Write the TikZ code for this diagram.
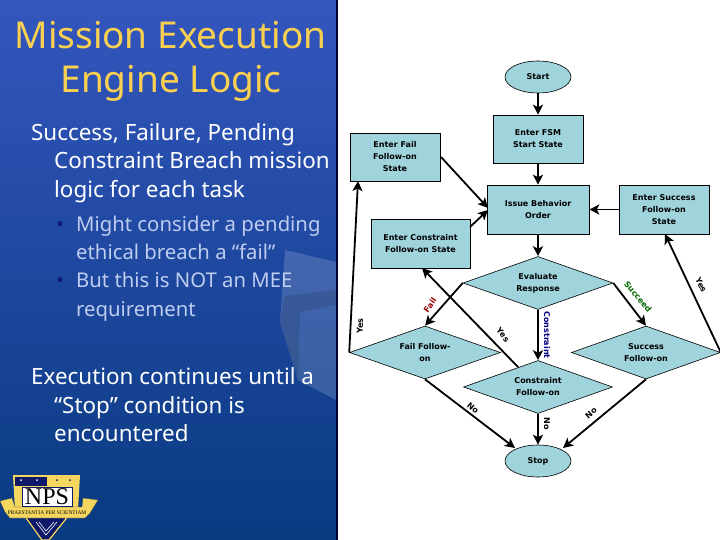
\documentclass[tikz,border=0pt]{standalone}
\usepackage{fontspec}
\setmainfont{Noto Sans}
\newfontfamily\flowfont{DejaVu Sans}
\newfontfamily\crestfont{Liberation Serif}
\usetikzlibrary{shapes.geometric,arrows.meta}
\definecolor{flowfill}{RGB}{160,212,220}
\definecolor{titlegold}{RGB}{250,208,80}
\definecolor{paneltop}{RGB}{52,86,190}
\definecolor{panelbot}{RGB}{8,58,128}
\definecolor{crestgold}{RGB}{245,215,95}
\definecolor{crestnavy}{RGB}{15,25,105}
\definecolor{paletext}{RGB}{190,205,240}
\definecolor{bulletnavy}{RGB}{15,25,120}
\tikzset{
  flowbox/.style={draw=black,line width=.6pt,fill=flowfill,rectangle,inner sep=0pt,align=center,
    font=\flowfont\bfseries\fontsize{8}{12}\selectfont},
  flowdiam/.style={flowbox,diamond,shape aspect=2.83},
  flowoval/.style={flowbox,ellipse},
  conn/.style={line width=1.8pt,-{Stealth[length=10pt,width=10pt,inset=2.5pt]}},
  edgelab/.style={font=\flowfont\bfseries\fontsize{8}{9}\selectfont,inner sep=0pt},
  titletext/.style={text=titlegold,font=\fontsize{37}{40}\selectfont,inner sep=0pt},
  bodytext/.style={text=white,anchor=base west,inner sep=0pt,font=\fontsize{22.4}{26}\selectfont},
  subtext/.style={text=paletext,anchor=base west,inner sep=0pt,font=\fontsize{20.3}{26}\selectfont},
}
\begin{document}
\begin{tikzpicture}[x=1pt,y=-1pt]
\path[use as bounding box,fill=white] (0,0) rectangle (720,540);
% left panel
\shade[top color=paneltop,bottom color=panelbot] (0,0) rectangle (336,540);
\fill[white,opacity=.16] (285,250) -- (336,262) -- (336,400) -- (298,380) -- (280,322) -- cycle;
\fill[black,opacity=.10] (285,296) -- (336,290) -- (336,305) -- (300,312) -- (298,378) -- (280,322) -- cycle;
\fill[black!60!blue!50!black] (336,0) rectangle (338,540);
% title and body text
\node[titletext] (t1) at (170.5,35) {Mission Execution};
\node[titletext] (t2) at (171,83) {Engine Logic};
\node[bodytext] (b1) at (31,141) {Success, Failure, Pending};
\node[bodytext] (b2) at (54,169) {Constraint Breach mission};
\node[bodytext] (b3) at (54,198) {logic for each task};
\node[subtext,text=bulletnavy] (s0) at (56,231) {•};
\node[subtext] (s1) at (76,231) {Might consider a pending};
\node[subtext] (s2) at (76,259) {ethical breach a “fail”};
\node[subtext,text=bulletnavy] (s3) at (56,287) {•};
\node[subtext] (s4) at (76,287) {But this is NOT an MEE};
\node[subtext] (s5) at (76,316) {requirement};
\node[bodytext] (e1) at (31,384) {Execution continues until a};
\node[bodytext] (e2) at (54,413) {“Stop” condition is};
\node[bodytext] (e3) at (54,441) {encountered};
% crest
\fill[crestgold] (13,475) -- (80,475) -- (78,510) -- (15,510) -- cycle;
\fill[crestnavy] (15,477) rectangle (47,486);
\fill[crestnavy] (26,481) circle (.8) (38,481) circle (.8);
\fill[white] (21,480) circle (1) (37,480) circle (1);
\fill[crestnavy] (57,480) circle (1) (70,480) circle (1);
\fill[white,draw=crestnavy,line width=.5pt] (22,487) rectangle (72,506);
\node[inner sep=0pt,text=black,font=\crestfont\fontsize{24}{24}\selectfont] (nps) at (47,496.5) {NPS};
\fill[crestnavy,draw=crestgold,line width=1.2pt] (24,515) -- (69,515) -- (49,540) -- (42,540) -- cycle;
\draw[white,line width=.6pt] (36,522) -- (46,535) -- (57,522) (39,522) -- (46,531) -- (54,522);
\fill[crestgold,draw=black!70,line width=.3pt] (0,501) -- (12,498) -- (15,507) -- (82,507) -- (83,498) -- (98,500) -- (90,513) -- (85,518) -- (10,518) -- (5,512) -- cycle;
\node[inner sep=0pt,text=black,font=\crestfont\fontsize{5.4}{5}\selectfont] (motto) at (47,512.5) {PRAESTANTIA PER SCIENTIAM};
% flowchart nodes
\node[flowoval,minimum width=66pt,minimum height=32pt] (start) at (538,77) {Start};
\node[flowbox,minimum width=90pt,minimum height=48pt] (fsm) at (538,139) {Enter FSM\\Start State};
\node[flowbox,minimum width=90pt,minimum height=48pt] (failst) at (395,157) {Enter Fail\\Follow-on\\State};
\node[flowbox,minimum width=102pt,minimum height=49pt] (issue) at (538,209.5) {Issue Behavior\\Order};
\node[flowbox,minimum width=90pt,minimum height=49pt] (succst) at (664,209.5) {Enter Success\\Follow-on\\State};
\node[flowbox,minimum width=99pt,minimum height=49pt] (consst) at (420.5,243.5) {Enter Constraint\\Follow-on State};
\node[flowdiam,minimum width=150pt,minimum height=53pt] (eval) at (538,283) {Evaluate\\Response};
\node[flowdiam,minimum width=151pt,minimum height=53pt] (faild) at (425,352.5) {Fail Follow-\\on};
\node[flowdiam,minimum width=149pt,minimum height=53pt] (succd) at (646,352.5) {Success\\Follow-on};
\node[flowdiam,minimum width=149pt,minimum height=53pt] (consd) at (538,387) {Constraint\\Follow-on};
\node[flowoval,minimum width=66pt,minimum height=32pt] (stop) at (538,461) {Stop};
% free ends
\coordinate (failin) at (358,181);
\coordinate (failout) at (441,157);
\coordinate (issuea) at (488,208);
\coordinate (consout) at (470,227);
\coordinate (issueb) at (488,210);
\coordinate (succin) at (665,234);
\coordinate (consfrom) at (518,367);
\coordinate (consin) at (422,268);
\coordinate (stopa) at (515,448);
\coordinate (stopb) at (563,448);
% connectors
\draw[conn] (start) -- (fsm);
\draw[conn] (fsm) -- (issue);
\draw[conn] (issue) -- (eval.north);
\draw[conn] (failout) -- (issuea);
\draw[conn] (consout) -- (issueb);
\draw[conn] (succst) -- (issue);
\draw[conn] (eval.west) -- (faild.north);
\draw[conn] (eval.east) -- (succd.north);
\draw[conn] (eval.south) -- (consd.north);
\draw[conn] (faild.west) -- (failin);
\draw[conn] (succd.east) -- (succin);
\draw[conn] (consfrom) -- (consin);
\draw[conn] (faild.south) -- (stopa);
\draw[conn] (consd.south) -- (stop.north);
\draw[conn] (succd.south) -- (stopb);
% connector labels
\node[edgelab,rotate=88] (l1) at (360,326) {Yes};
\node[edgelab,rotate=55,text=red!60!black] (l2) at (430,305) {Fail};
\node[edgelab,rotate=-50] (l3) at (503,335) {Yes};
\node[edgelab,rotate=-90,text=blue!50!black] (l4) at (547,335) {Constraint};
\node[edgelab,rotate=-50,text=green!40!black] (l5) at (638,297) {Succeed};
\node[edgelab,rotate=-63] (l6) at (701,285) {Yes};
\node[edgelab,rotate=-40] (l7) at (473,408) {No};
\node[edgelab,rotate=-90] (l8) at (547,424) {No};
\node[edgelab,rotate=42] (l9) at (591,413) {No};
\end{tikzpicture}
\end{document}
